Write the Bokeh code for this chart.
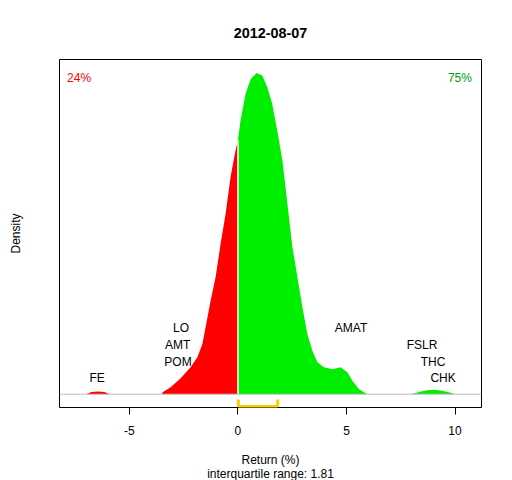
import math
from bokeh.plotting import figure
from bokeh.models import Range1d, FixedTicker, Span, Label, LabelSet, ColumnDataSource, Title
from bokeh.core.properties import value
from bokeh.embed import file_html
from bokeh.resources import INLINE

# ---- data ----
title_text = "2012-08-07"
# return grid (%) and kernel density height
ret_x = [-7.0, -6.75, -6.45, -6.15, -5.9,
         -3.5, -3.47, -3.1, -2.64, -2.18, -1.87, -1.64, -1.49, -1.26, -1.03,
         -0.80, -0.57, -0.34, -0.11, 0.0, 0.12, 0.35, 0.59, 0.86, 1.12, 1.35,
         1.58, 1.81, 2.05, 2.28, 2.51, 2.74, 2.97, 3.20, 3.43, 3.66, 3.96,
         4.35, 4.73, 5.04, 5.27, 5.58, 5.96,
         7.96, 8.3, 8.7, 9.04, 9.4, 9.8, 10.0]
density = [0.0, 0.0022, 0.0026, 0.0022, 0.0,
           0.0, 0.002, 0.007, 0.016, 0.027, 0.037, 0.050, 0.067, 0.0935, 0.117,
           0.150, 0.180, 0.217, 0.2435, 0.254, 0.2735, 0.300, 0.315, 0.321, 0.3185, 0.307,
           0.290, 0.2635, 0.2335, 0.190, 0.147, 0.117, 0.087, 0.060, 0.0435, 0.032, 0.027,
           0.025, 0.027, 0.022, 0.0135, 0.005, 0.0,
           0.0, 0.002, 0.004, 0.0045, 0.0035, 0.0015, 0.0]
q1, q3 = 0.02, 1.83
x_title = "Return (%)"
iqr_text = "interquartile range: 1.81"
y_title = "Density"
pct_down = "24%"
pct_up = "75%"
tickers = ["FE", "LO", "AMT", "POM", "AMAT", "FSLR", "THC", "CHK"]
ticker_x = [-6.49, -2.62, -2.78, -2.76, 5.21, 8.48, 8.99, 9.45]
ticker_y = [0.0158, 0.0662, 0.0492, 0.0318, 0.0662, 0.0492, 0.0318, 0.0158]
x_ticks = [-5, 0, 5, 10]

FONT = "Liberation Sans"
RED = "#FF0000"
GREEN = "#00EE00"

p = figure(width=512, height=480, output_backend="svg", toolbar_location=None,
           x_range=Range1d(-8.22, 11.22), y_range=Range1d(-0.0133, 0.3345),
           min_border_left=59, min_border_right=31, min_border_top=59,
           min_border_bottom=73, title=None)
p.grid.visible = False
p.outline_line_color = "black"
p.outline_line_width = 1
p.background_fill_color = "white"
p.border_fill_color = "white"

# spacer nearest the frame, then the main title above it
p.add_layout(Title(text=" ", text_font_size="1px", standoff=14), "above")
p.add_layout(Title(text=title_text, align="center", text_font=FONT,
                   text_font_size="14.4px", text_font_style="bold",
                   text_color="black", standoff=10), "above")

ax = p.xaxis[0]
ax.ticker = FixedTicker(ticks=x_ticks, minor_ticks=[])
ax.major_label_overrides = {t: str(t) for t in x_ticks}
ax.major_tick_out = 7
ax.major_tick_in = 0
ax.minor_tick_out = 0
ax.major_tick_line_color = "black"
ax.axis_line_color = None
ax.major_label_standoff = 11
ax.major_label_text_font = FONT
ax.major_label_text_font_size = "12px"
ax.major_label_text_color = "black"
ax.axis_label = x_title
ax.axis_label_standoff = 15
ax.axis_label_text_font = FONT
ax.axis_label_text_font_size = "12px"
ax.axis_label_text_font_style = "normal"
ax.axis_label_text_color = "black"

p.add_layout(Title(text=iqr_text, align="center", text_font=FONT, text_font_size="12px",
                   text_font_style="normal", text_color="black", standoff=-9), "below")

ay = p.yaxis[0]
ay.ticker = FixedTicker(ticks=[], minor_ticks=[])
ay.major_tick_out = 0
ay.major_tick_in = 0
ay.minor_tick_out = 0
ay.axis_line_color = None
ay.major_label_text_font_size = "0px"
ay.axis_label = y_title
ay.axis_label_standoff = 37
ay.axis_label_text_font = FONT
ay.axis_label_text_font_size = "12px"
ay.axis_label_text_font_style = "normal"
ay.axis_label_text_color = "black"

# density fill, split at zero
lx = [x for x in ret_x if x <= 0]
ly = [d for x, d in zip(ret_x, density) if x <= 0]
rx = [x for x in ret_x if x >= 0]
ry = [d for x, d in zip(ret_x, density) if x >= 0]
p.varea(x=lx, y1=[0] * len(lx), y2=ly, fill_color=RED)
p.varea(x=rx, y1=[0] * len(rx), y2=ry, fill_color=GREEN)
d0 = density[ret_x.index(0.0)]
p.segment(x0=[0], y0=[0], x1=[0], y1=[d0], line_color="white", line_width=1.5)

p.add_layout(Span(location=0, dimension="width", line_color="#BEBEBE", line_width=1))

# interquartile bracket
yb, yt = -0.0122, -0.0052
p.segment(x0=[q1, q1, q3], y0=[yb, yb, yb], x1=[q3, q1, q3], y1=[yb, yt, yt],
          line_color="#FFCC00", line_width=3)

src = ColumnDataSource(dict(x=ticker_x, y=ticker_y, t=tickers))
p.add_layout(LabelSet(x="x", y="y", text="t", source=src, text_align="center",
                      text_baseline="middle", text_font=value(FONT),
                      text_font_size="12px", text_color="black"))

def lab(text, x, y, color, align):
    p.add_layout(Label(x=x, y=y, text=text, text_align=align, text_baseline="middle",
                       text_font=FONT, text_font_size="12px", text_color=color))

lab(pct_down, -7.87, 0.316, RED, "left")
lab(pct_up, 10.78, 0.316, "#00A000", "right")

open("out.html", "w").write(file_html(p, INLINE))
